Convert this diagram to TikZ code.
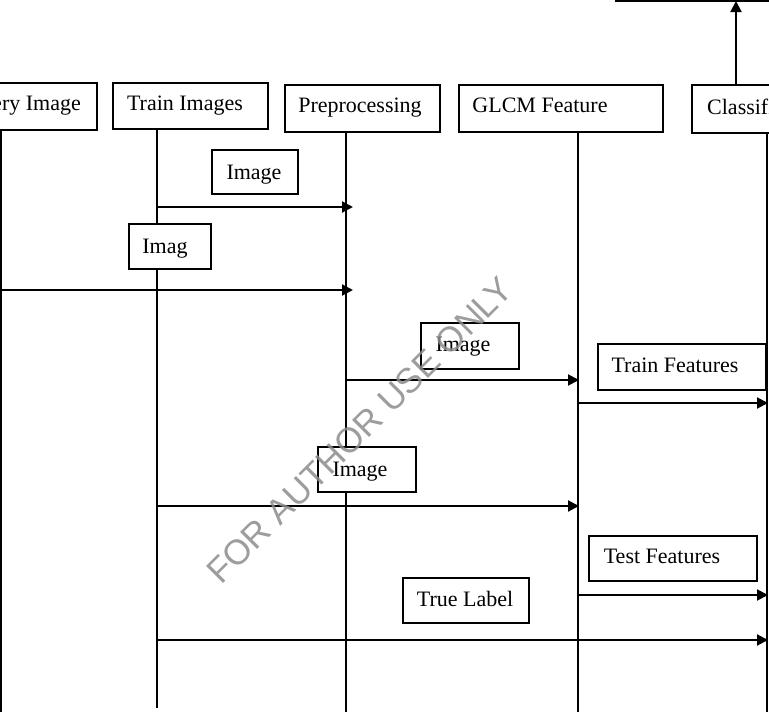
\documentclass[tikz,border=0pt]{standalone}
\usepackage{fontspec}
\setmainfont{Liberation Serif}
\newfontfamily\wmfont{Liberation Sans}
\usetikzlibrary{arrows.meta}
\begin{document}
\begin{tikzpicture}[x=1pt,y=-1pt,
  box/.style={draw=black,fill=white,line width=2pt,rectangle,inner sep=0pt},
  txt/.style={inner sep=0pt,anchor=base,font=\fontsize{22}{26}\selectfont},
  life/.style={line width=2pt},
  msg/.style={line width=2pt,-{Triangle[length=11pt,width=11pt]}}]
\useasboundingbox (0,0) rectangle (769,712);
\clip (0,0) rectangle (769,712);
\fill[white] (0,0) rectangle (769,712);

% lifelines
\coordinate (qTop) at (1,130);   \coordinate (qBot) at (1,712);
\coordinate (tTop) at (157,129); \coordinate (tBot) at (157,708);
\coordinate (pTop) at (346,132); \coordinate (pBot) at (346,712);
\coordinate (gTop) at (578,132); \coordinate (gBot) at (578,712);
\coordinate (cTop) at (767,133); \coordinate (cBot) at (767,712);
\draw[life] (qTop) -- (qBot);
\draw[life] (tTop) -- (tBot);
\draw[life] (pTop) -- (pBot);
\draw[life] (gTop) -- (gBot);
\draw[life] (cTop) -- (cBot);

% messages
\coordinate (a1s) at (157,207); \coordinate (a1e) at (353,207);
\coordinate (a2s) at (0,290);   \coordinate (a2e) at (353,290);
\coordinate (a3s) at (346,380); \coordinate (a3e) at (579,380);
\coordinate (a4s) at (578,403); \coordinate (a4e) at (768,403);
\coordinate (a5s) at (157,506); \coordinate (a5e) at (579,506);
\coordinate (a6s) at (578,595); \coordinate (a6e) at (768,595);
\coordinate (a7s) at (157,640); \coordinate (a7e) at (768,640);
\draw[msg] (a1s) -- (a1e);
\draw[msg] (a2s) -- (a2e);
\draw[msg] (a3s) -- (a3e);
\draw[msg] (a4s) -- (a4e);
\draw[msg] (a5s) -- (a5e);
\draw[msg] (a6s) -- (a6e);
\draw[msg] (a7s) -- (a7e);

% head boxes
\node[box,minimum width=137pt,minimum height=47pt] (query) at (28.5,106.5) {};
\node[box,minimum width=155pt,minimum height=46pt] (train) at (190.5,106) {};
\node[box,minimum width=155pt,minimum height=47pt] (prep) at (362.5,108.5) {};
\node[box,minimum width=204pt,minimum height=47pt] (glcm) at (561,108.5) {};
\node[box,minimum width=108pt,minimum height=48pt] (clf) at (746,109) {};
\node[txt,anchor=base east] (queryT) at (81,110) {Query Image};
\node[txt] (trainT) at (185,110) {Train Images};
\node[txt] (prepT) at (360,112) {Preprocessing};
\node[txt] (glcmT) at (540,112) {GLCM Feature};
\node[txt,anchor=base west] (clfT) at (707,114) {Classifier};

% top output arrow
\coordinate (outTip) at (736,1);
\coordinate (outL) at (615,1);
\coordinate (outR) at (769,1);
\draw[life] (outL) -- (outR);
\draw[msg] (clf.north -| outTip) -- (outTip);

% message boxes
\node[box,minimum width=86pt,minimum height=44pt] (m1) at (255,172) {};
\node[box,minimum width=82pt,minimum height=45pt] (m2) at (170,246.5) {};
\node[box,minimum width=98pt,minimum height=46pt] (m3) at (470,346) {};
\node[box,minimum width=168pt,minimum height=46pt] (m4) at (682,367) {};
\node[box,minimum width=98pt,minimum height=45pt] (m5) at (367,469.5) {};
\node[box,minimum width=168pt,minimum height=45pt] (m6) at (673,558.5) {};
\node[box,minimum width=126pt,minimum height=45pt] (m7) at (466,600.5) {};
\node[txt] (m1T) at (254,179) {Image};
\node[txt] (m2T) at (165,253) {Imag};
\node[txt] (m3T) at (463,351) {Image};
\node[txt] (m4T) at (675,372) {Train Features};
\node[txt] (m5T) at (360,476) {Image};
\node[txt] (m6T) at (662,563) {Test Features};
\node[txt] (m7T) at (465,606) {True Label};

% watermark
\node[inner sep=0pt,rotate=45,text=black!45,opacity=0.85,font=\wmfont\fontsize{35}{40}\selectfont] (wm) at (360,430) {FOR AUTHOR USE ONLY};
\end{tikzpicture}
\end{document}
